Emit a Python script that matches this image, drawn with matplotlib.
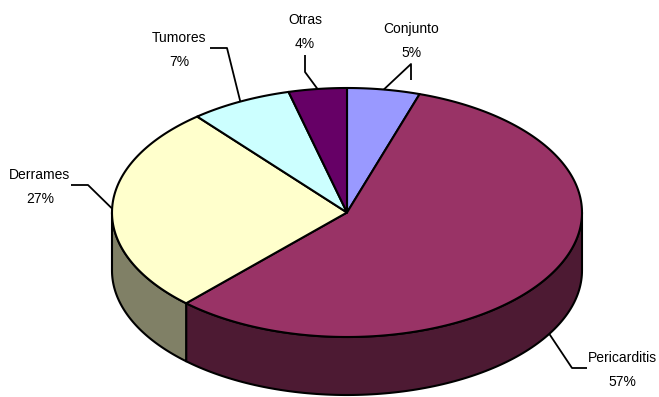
import numpy as np
import matplotlib.pyplot as plt
from matplotlib.patches import Polygon

# Causas (porcentaje del total), en sentido horario desde las 12
labels = ['Conjunto', 'Pericarditis', 'Derrames', 'Tumores', 'Otras']
values = [5, 57, 27, 7, 4]
top_colors = ['#9999FF', '#993366', '#FFFFCC', '#CCFFFF', '#660066']
side_colors = ['#4D4D80', '#4D1A33', '#808066', '#668080', '#330033']

# geometry of the 3D pie in pixel-like units
cx, cy = 347, 212.5
rx, ry = 235, 124.5
depth = 58

# label text position (centre of the name line) and leader elbow point
label_pos = {
    'Conjunto': (411, 29, [(411, 64), (411, 80)]),
    'Pericarditis': (622, 358, [(572, 368), (587, 368)]),
    'Derrames': (40, 175, [(88, 185), (71, 185)]),
    'Tumores': (179, 38, [(227, 48), (210, 48)]),
    'Otras': (305, 20, [(305, 72), (305, 55)]),
}

plt.rcParams['font.family'] = ['Liberation Sans', 'DejaVu Sans']

fig = plt.figure(figsize=(6.59, 3.97), dpi=100)
ax = fig.add_axes([0, 0, 1, 1])
ax.set_xlim(0, 659)
ax.set_ylim(397, 0)
ax.axis('off')


def ell(t, dy=0.0):
    t = np.radians(t)
    return cx + rx * np.sin(t), cy - ry * np.cos(t) + dy


fracs = np.array(values) / sum(values)
starts = np.concatenate([[0], np.cumsum(fracs)[:-1]]) * 360
ends = np.cumsum(fracs) * 360

# front side faces (visible between 90 and 270 degrees)
for s, e, col in zip(starts, ends, side_colors):
    a, b = max(s, 90), min(e, 270)
    if a >= b:
        continue
    t = np.linspace(a, b, 120)
    xt, yt = ell(t)
    xb, yb = ell(t[::-1], depth)
    pts = np.column_stack([np.concatenate([xt, xb]), np.concatenate([yt, yb])])
    ax.add_patch(Polygon(pts, closed=True, facecolor=col, edgecolor='black',
                         linewidth=1.5, joinstyle='round'))

# top faces
for s, e, col in zip(starts, ends, top_colors):
    t = np.linspace(s, e, 200)
    xt, yt = ell(t)
    pts = np.column_stack([np.concatenate([[cx], xt]), np.concatenate([[cy], yt])])
    ax.add_patch(Polygon(pts, closed=True, facecolor=col, edgecolor='black',
                         linewidth=1.5, joinstyle='round'))

# labels with leader lines
for name, v, s, e in zip(labels, values, starts, ends):
    mid = (s + e) / 2
    if 90 < mid < 270:
        ax_, ay_ = ell(mid, depth)
    else:
        ax_, ay_ = ell(mid)
    lx, ly, elbow = label_pos[name]
    xs = [ax_] + [p[0] for p in elbow]
    ys = [ay_] + [p[1] for p in elbow]
    ax.plot(xs, ys, color='black', linewidth=1.3, solid_capstyle='butt')
    ax.text(lx, ly, name, ha='center', va='center', fontsize=10)
    ax.text(lx, ly + 24, f'{v}%', ha='center', va='center', fontsize=10)

plt.savefig('out.png', dpi=100)
